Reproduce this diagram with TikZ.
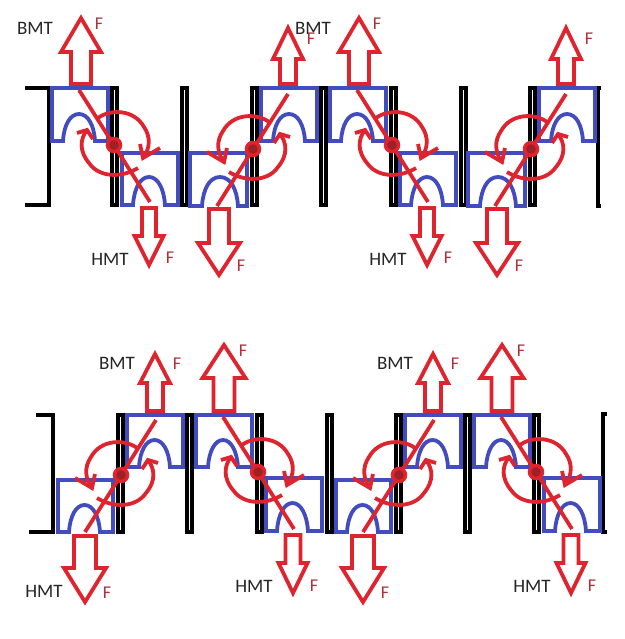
\documentclass[tikz,border=0pt]{standalone}
\usepackage{fontspec}
\setmainfont{Carlito}
\definecolor{rosso}{RGB}{222,36,46}
\definecolor{rossoscuro}{RGB}{176,48,62}
\definecolor{blu}{RGB}{66,76,190}
% Freccia: asse x, mezzo gambo, mezza testa, base, collo, punta
\newcommand{\freccia}[6]{
    \draw[sforzo] (#1-#2,#4) -- (#1+#2,#4) -- (#1+#2,#5) -- (#1+#3,#5) -- (#1,#6)
        -- (#1-#3,#5) -- (#1-#2,#5) -- cycle;
}
% Blocco: sinistra, destra, alto, basso, inizio arco, fine arco, cima arco
\newcommand{\blocco}[7]{
    \draw[pezzo] (#1,#4) -- (#1,#3) -- (#2,#3) -- (#2,#4) -- (#6,#4)
        .. controls (#6-1,#4-16) and (#6-7,#7) .. ({(#5+#6)/2},#7)
        .. controls (#5+7,#7) and (#5+1,#4-16) .. (#5,#4) -- cycle;
}
% Perno con asta e frecce curve: x, y, verso
\newcommand{\perno}[3]{
    \begin{scope}[shift={(#1,#2)}, xscale=#3]
        \draw[braccio] (-35,-55) -- (36,57);
        \draw[braccio] (-16,-27) .. controls (-4,-36) and (20,-36) .. (30,-18)
            .. controls (37,-8) and (36,4) .. (29,13);
        \draw[braccio] (26,-1) -- (29,13) -- (46,3);
        \draw[braccio] (24,23) .. controls (10,32) and (-14,34) .. (-25,18)
            .. controls (-35,6) and (-34,-6) .. (-27,-15);
        \draw[braccio] (-37,-12) -- (-27,-15) -- (-21,-6);
        \fill[rosso!75!black] (0,0) circle (6);
        \draw[rosso, line width=3.5] (0,0) circle (6.5);
        \fill[black!70] (-2,-1) circle (0.9) (2,1) circle (0.9);
    \end{scope}
}
\begin{document}
\begin{tikzpicture}[x=1pt, y=-1pt]
    % Stili
    \tikzstyle{pezzo}=[draw=blu, line width=3.8, line join=miter]
    \tikzstyle{parete}=[draw=black, line width=4.2, fill=white]
    \tikzstyle{bordo}=[draw=black, line width=3.5]
    \tikzstyle{sforzo}=[draw=rosso, line width=3.8, fill=white, line join=miter]
    \tikzstyle{braccio}=[draw=rosso, line width=3.8]
    \tikzstyle{sigla}=[font=\fontsize{19}{19}\selectfont, text=black!85, inner sep=0pt]
    \tikzstyle{forza}=[font=\fontsize{18}{18}\selectfont, text=rossoscuro, inner sep=0pt]

    \useasboundingbox (0,0) rectangle (624,639);
    \fill[white] (0,0) rectangle (624,639);

    % Bordi esterni
    \draw[bordo] (25,88) -- (49,88) -- (49,205) -- (25,205);
    \draw[bordo] (601,88) -- (598,88) -- (598,206) -- (601,206);
    \draw[bordo] (36,415) -- (53,415) -- (53,532) -- (29,532);
    \draw[bordo] (607,414) -- (603,414) -- (603,532) -- (607,532);

    % Pareti
    \foreach \x in {110,180,250,319,389,459,528}
        \draw[parete] (\x+2,88) rectangle (\x+7,205);
    \foreach \x in {116,185,255,325,394,463,532}
        \draw[parete] (\x+2,415) rectangle (\x+7,532);

    \foreach \dx in {0,278} {
    \begin{scope}[xshift=\dx]
        % Fila alta: blocchi
        \blocco{52}{108}{88}{141}{63}{95}{114}
        \blocco{122}{178}{153}{205}{133}{165}{177}
        \blocco{190}{247}{153}{206}{202}{238}{177}
        \blocco{261}{317}{88}{141}{273}{305}{114}
        % Fila alta: forze
        \freccia{81}{10}{20}{84}{52}{18}
        \freccia{149}{7}{14.5}{208}{236}{265}
        \freccia{219}{10}{21}{209}{243}{275}
        \freccia{288}{8}{15}{84}{59}{28}
        \perno{114}{145}{1}
        \perno{253}{149}{-1}
        \node[sigla] (bmtalto\dx) at (35,28) {BMT};
        \node[forza] (falto\dx) at (99,24) {F};
        \node[forza] (fpiccola\dx) at (311,39) {F};
        \node[sigla] (hmtalto\dx) at (110,259) {HMT};
        \node[forza] (fgiu\dx) at (170,258) {F};
        \node[forza] (fgrande\dx) at (241,266) {F};
        % Fila bassa: blocchi
        \blocco{58}{113}{480}{532}{69}{100}{505}
        \blocco{127}{183}{415}{467}{139}{170}{440}
        \blocco{196}{252}{415}{467}{208}{238}{440}
        \blocco{266}{322}{478}{531}{277}{308}{503}
        % Fila bassa: forze
        \freccia{155}{8}{15}{411}{383}{354}
        \freccia{224}{10.5}{21.5}{411}{378}{345}
        \freccia{85}{11}{21}{536}{568}{602}
        \freccia{293}{7.5}{14.5}{535}{563}{593}
        \perno{121}{475}{-1}
        \perno{258}{472}{1}
        \node[sigla] (bmtbasso\dx) at (117,363) {BMT};
        \node[forza] (fsu\dx) at (177,364) {F};
        \node[forza] (fcima\dx) at (243,351) {F};
        \node[forza] (ffondo\dx) at (107,593) {F};
        \node[sigla] (hmtbasso\dx) at (254,586) {HMT};
        \node[forza] (fdestra\dx) at (314,586) {F};
    \end{scope}
    }
    \node[sigla] (hmtsolo) at (44,591) {HMT};
\end{tikzpicture}
\end{document}
